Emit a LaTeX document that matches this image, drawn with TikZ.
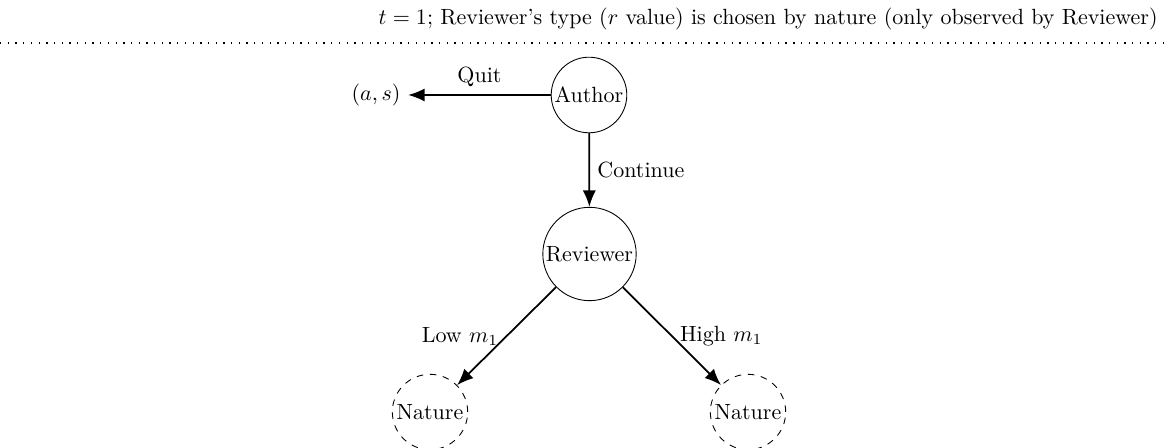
\documentclass[tikz,border=0pt]{standalone}
\usetikzlibrary{arrows.meta}
\begin{document}
\begin{tikzpicture}[x=0.4545pt, y=-0.4545pt,
  player/.style={circle, draw, inner sep=1pt},
  chance/.style={circle, draw, dashed, inner sep=1.3pt},
  move/.style={-{Latex[length=7.5pt,width=6pt]}, thick}]
\useasboundingbox (0,0) rectangle (1169,448);
\node[anchor=base east, inner sep=0pt] (title) at (1158,25)
  {$t=1$; Reviewer's type ($r$ value) is chosen by nature (only observed by Reviewer)};
\coordinate (lineL) at (0,43);
\coordinate (lineR) at (1169,43);
\draw[line width=0.6pt, dash pattern=on 0.6pt off 2.9pt] (lineL) -- (lineR);
\node[player] (author) at (589,95) {Author};
\node[player] (reviewer) at (589.5,254) {Reviewer};
\node[chance] (natL) at (430,412) {Nature};
\node[chance] (natR) at (748,412) {Nature};
\node (as) at (376,95) {$(a,s)$};
\draw[move] (author) -- node[above] {Quit} (as);
\draw[move] (author) -- node[right] {Continue} (reviewer);
\draw[move] (reviewer) -- node[left] {Low $m_1$} (natL);
\draw[move] (reviewer) -- node[right] {High $m_1$} (natR);
\end{tikzpicture}
\end{document}
